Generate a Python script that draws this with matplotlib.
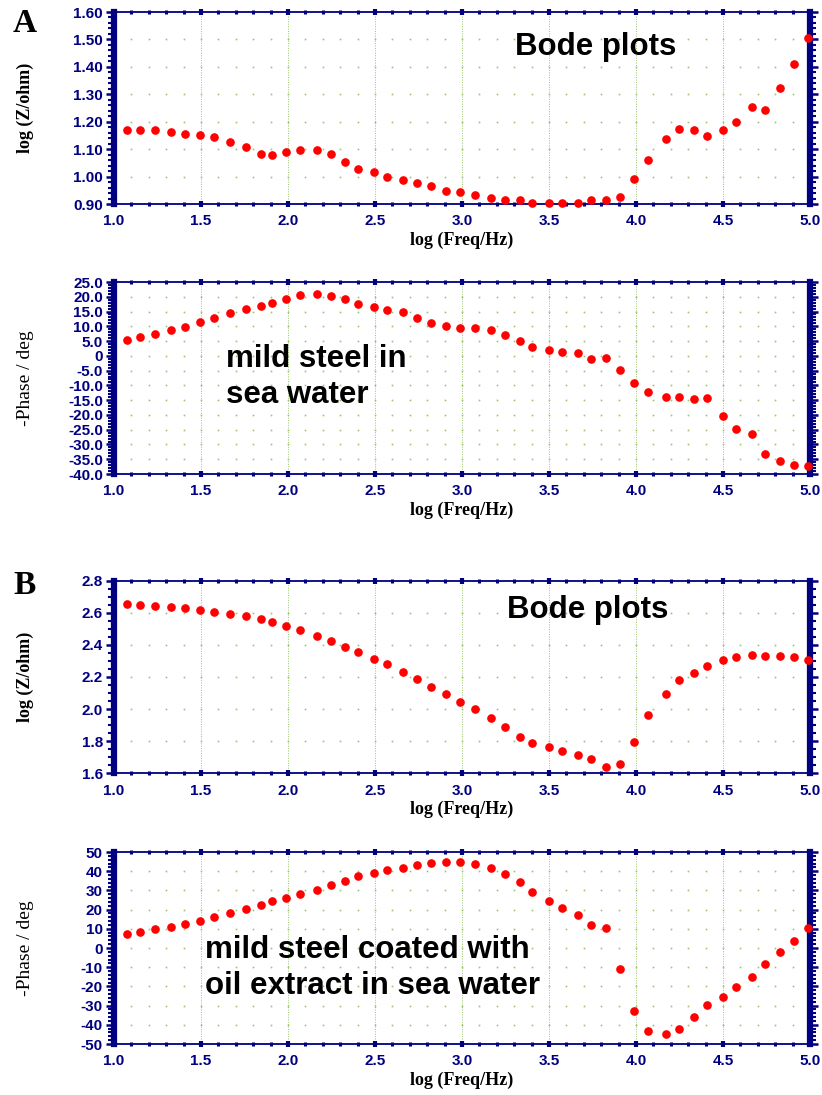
import numpy as np
import matplotlib
matplotlib.use("Agg")
import matplotlib.pyplot as plt
from matplotlib.ticker import MultipleLocator, FixedLocator

# log(frequency / Hz), same sweep for both samples
log_freq = [1.073, 1.151, 1.237, 1.326, 1.410, 1.496, 1.576, 1.667, 1.757, 1.843,
            1.908, 1.989, 2.069, 2.165, 2.246, 2.330, 2.404, 2.494, 2.569, 2.663,
            2.740, 2.820, 2.908, 2.989, 3.073, 3.165, 3.249, 3.333, 3.404, 3.500,
            3.573, 3.665, 3.740, 3.826, 3.908, 3.990, 4.071, 4.171, 4.249, 4.335,
            4.406, 4.498, 4.575, 4.665, 4.741, 4.828, 4.910, 4.987]

# A: mild steel in sea water
a_logz = [1.170, 1.171, 1.169, 1.164, 1.155, 1.153, 1.143, 1.127, 1.108, 1.084,
          1.077, 1.090, 1.096, 1.096, 1.084, 1.053, 1.028, 1.015, 0.997, 0.987,
          0.975, 0.966, 0.947, 0.943, 0.933, 0.922, 0.913, 0.913, 0.902, 0.904,
          0.905, 0.904, 0.913, 0.913, 0.926, 0.991, 1.059, 1.138, 1.175, 1.169,
          1.147, 1.169, 1.199, 1.252, 1.243, 1.322, 1.410, 1.504]
a_phase = [5.5, 6.3, 7.5, 8.8, 9.8, 11.4, 12.9, 14.4, 15.9, 17.0,
           17.9, 19.4, 20.5, 20.8, 20.3, 19.1, 17.6, 16.4, 15.5, 14.8,
           12.7, 11.2, 10.1, 9.5, 9.3, 8.8, 7.0, 4.9, 2.9, 2.0,
           1.2, 1.0, -1.1, -0.7, -4.9, -9.2, -12.4, -13.8, -13.8, -14.7,
           -14.2, -20.5, -24.8, -26.6, -33.3, -35.7, -37.0, -37.2]

# B: mild steel coated with oil extract in sea water
b_logz = [2.653, 2.646, 2.642, 2.634, 2.630, 2.619, 2.605, 2.590, 2.580, 2.563,
          2.543, 2.516, 2.491, 2.457, 2.426, 2.389, 2.358, 2.314, 2.279, 2.229,
          2.190, 2.136, 2.092, 2.046, 1.999, 1.945, 1.889, 1.828, 1.787, 1.764,
          1.739, 1.712, 1.687, 1.642, 1.656, 1.797, 1.961, 2.096, 2.183, 2.223,
          2.269, 2.306, 2.325, 2.335, 2.331, 2.331, 2.322, 2.306]
b_phase = [7.5, 8.3, 9.7, 11.1, 12.3, 14.2, 16.0, 18.2, 20.3, 22.6,
           24.3, 26.0, 28.0, 30.0, 32.8, 35.1, 37.7, 39.1, 40.6, 41.7,
           43.1, 44.1, 44.8, 44.8, 43.8, 41.7, 38.5, 34.6, 29.3, 24.3,
           20.8, 17.4, 12.0, 10.6, -10.9, -32.6, -43.2, -45.0, -42.4, -36.1,
           -29.5, -25.4, -20.5, -14.9, -8.2, -2.1, 3.7, 10.2]

x_ticks = [1.0, 1.5, 2.0, 2.5, 3.0, 3.5, 4.0, 4.5, 5.0]
a_logz_ticks = [0.90, 1.00, 1.10, 1.20, 1.30, 1.40, 1.50, 1.60]
a_phase_ticks = [-40, -35, -30, -25, -20, -15, -10, -5, 0, 5, 10, 15, 20, 25]
b_logz_ticks = [1.6, 1.8, 2.0, 2.2, 2.4, 2.6, 2.8]
b_phase_ticks = [-50, -40, -30, -20, -10, 0, 10, 20, 30, 40, 50]

NAVY = "#000080"
GRID = "#9cc46a"
TICK_FONT = ["Liberation Sans Narrow", "Liberation Sans"]
SERIF = "Liberation Serif"
W, H = 822, 1095


def fmt_tick(v, style):
    if style == "phase1":
        return "0" if v == 0 else f"{v:.1f}"
    if style == "int":
        return f"{v:d}"
    return format(v, style)


def make_panel(fig, top, bottom, y, ticks, tstyle, yminor, ylabel, ylabel_bold):
    ax = fig.add_axes([114 / W, 1 - bottom / H, 696 / W, (bottom - top) / H])
    ax.set_xlim(1.0, 5.0)
    ax.set_ylim(ticks[0], ticks[-1])

    # grid: fine dotted verticals at half decades, dotted rows at y ticks
    for gx in x_ticks[1:-1]:
        ax.axvline(gx, color=GRID, lw=0.7, ls=(0, (1, 1.5)), zorder=1)
    dots_x = np.arange(1.1, 4.95, 0.1)
    for gy in ticks[1:-1]:
        ax.plot(dots_x, np.full_like(dots_x, gy), ls="none", marker="s",
                ms=1.2, mec="none", mfc=GRID, zorder=1)

    ax.plot(log_freq, y, ls="none", marker="o", ms=5.2, mfc="#ff0000",
            mec="#ff0000", zorder=3, clip_on=False)

    ax.xaxis.set_major_locator(FixedLocator(x_ticks))
    ax.xaxis.set_minor_locator(MultipleLocator(0.1))
    ax.yaxis.set_major_locator(FixedLocator(ticks))
    ax.yaxis.set_minor_locator(MultipleLocator(yminor))
    ax.set_xticklabels([f"{v:.1f}" for v in x_ticks])
    ax.set_yticklabels([fmt_tick(v, tstyle) for v in ticks])

    for side in ("left", "right"):
        ax.spines[side].set_linewidth(4.5)
        ax.spines[side].set_color(NAVY)
    for side in ("top", "bottom"):
        ax.spines[side].set_linewidth(1.3)
        ax.spines[side].set_color(NAVY)

    ax.tick_params(axis="x", which="major", top=True, bottom=True,
                   direction="inout", length=5, width=3, color=NAVY, pad=5)
    ax.tick_params(axis="x", which="minor", top=True, bottom=True,
                   direction="inout", length=3.5, width=2.2, color=NAVY)
    ax.tick_params(axis="y", which="major", left=True, right=True,
                   direction="out", length=6, width=1.8, color=NAVY, pad=2)
    ax.tick_params(axis="y", which="minor", left=True, right=True,
                   direction="out", length=4, width=1.5, color=NAVY)
    for lab in ax.get_xticklabels() + ax.get_yticklabels():
        lab.set_family(TICK_FONT)
        lab.set_fontweight("bold")
        lab.set_fontsize(11)
        lab.set_color(NAVY)

    ax.set_xlabel("log (Freq/Hz)", family=SERIF, fontweight="bold",
                  fontsize=13, labelpad=2)
    fig.text(25 / W, 1 - (top + bottom) / 2 / H, ylabel, rotation=90,
             ha="center", va="center", family=SERIF,
             fontweight="bold" if ylabel_bold else "normal",
             fontsize=13 if ylabel_bold else 14)
    return ax


fig = plt.figure(figsize=(W / 100, H / 100), dpi=100)

ax1 = make_panel(fig, 12, 204, a_logz, a_logz_ticks, ".2f", 0.02,
                 "log (Z/ohm)", True)
ax2 = make_panel(fig, 282, 474, a_phase, a_phase_ticks, "phase1", 1.0,
                 "-Phase / deg", False)
ax3 = make_panel(fig, 580.7, 773.3, b_logz, b_logz_ticks, ".1f", 0.05,
                 "log (Z/ohm)", True)
ax4 = make_panel(fig, 852, 1044, b_phase, b_phase_ticks, "int", 2.0,
                 "-Phase / deg", False)

note = dict(family="Liberation Sans", fontweight="bold", fontsize=22.5,
            color="black", zorder=4)
fig.text(596 / W, 1 - 47 / H, "Bode plots", ha="center", va="center", **note)
fig.text(588 / W, 1 - 610 / H, "Bode plots", ha="center", va="center", **note)
fig.text(226 / W, 1 - 377 / H, "mild steel in\nsea water", ha="left",
         va="center", linespacing=1.25, **note)
fig.text(205 / W, 1 - 968 / H, "mild steel coated with\noil extract in sea water",
         ha="left", va="center", linespacing=1.25, **note)

fig.text(13 / W, 1 - 23 / H, "A", family=SERIF, fontweight="bold",
         fontsize=24, ha="left", va="center")
fig.text(13 / W, 1 - 585 / H, "B", family=SERIF, fontweight="bold",
         fontsize=24, ha="left", va="center")

fig.savefig("out.png", dpi=100)
